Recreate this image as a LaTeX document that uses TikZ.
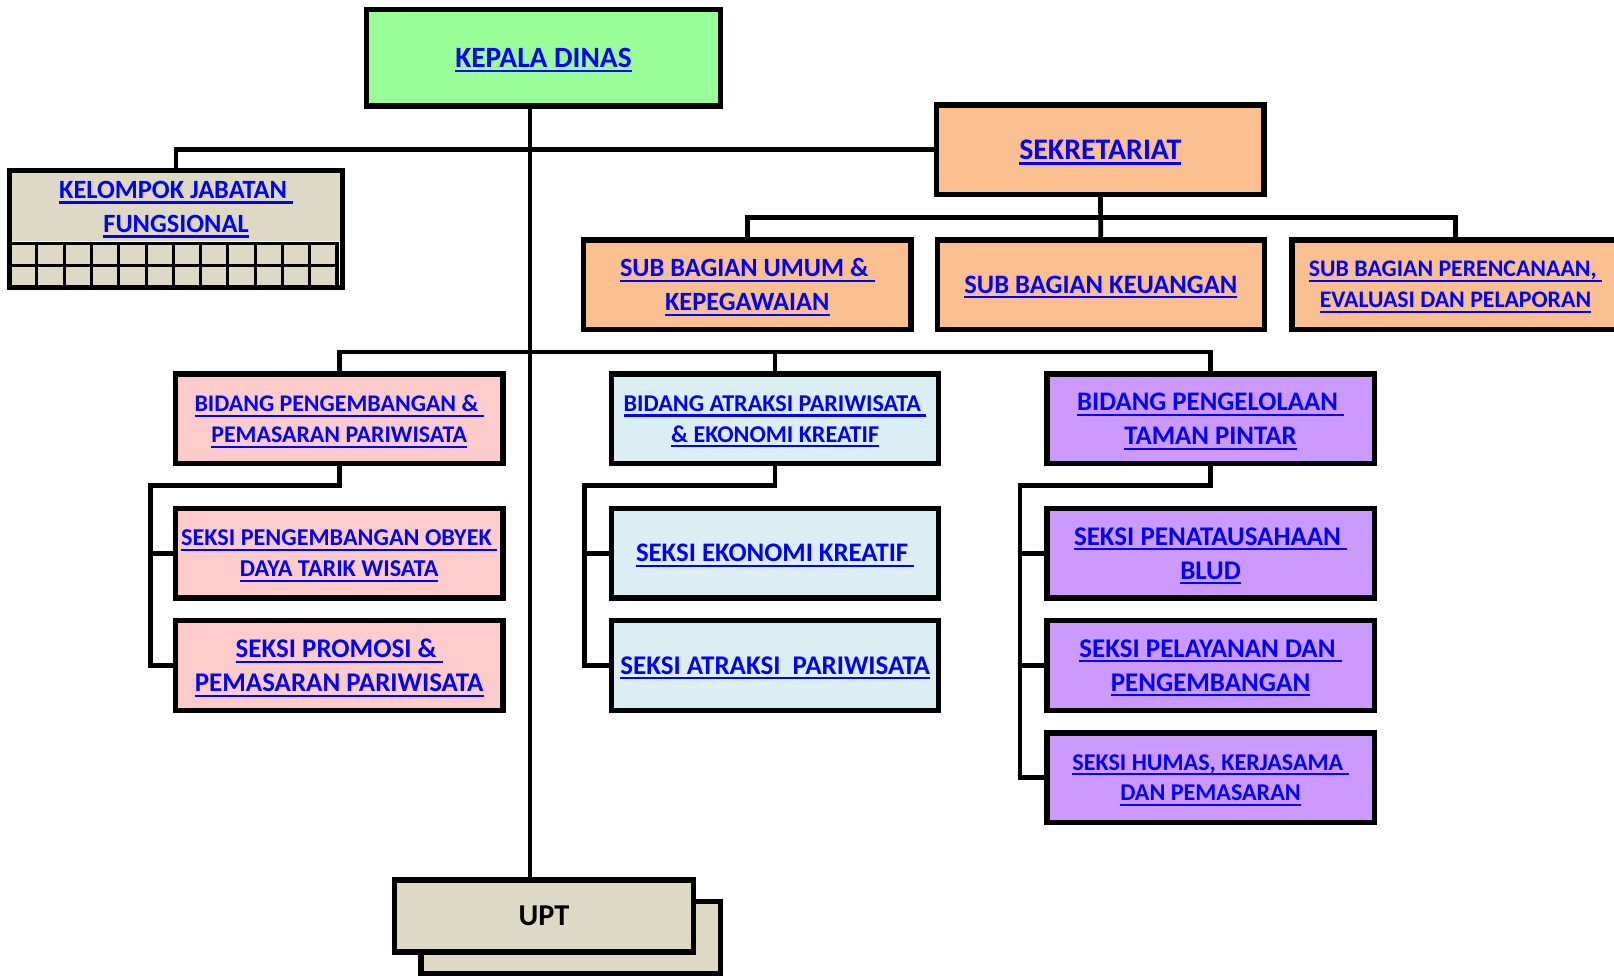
\documentclass[tikz,border=0pt]{standalone}
\usepackage{fontspec}
\setmainfont{Carlito}
\usepackage{xcolor}
\usetikzlibrary{positioning,calc,shadows}

\definecolor{hijau}{HTML}{99FF99}
\definecolor{oranye}{HTML}{FAC090}
\definecolor{merahmuda}{HTML}{FFCCCC}
\definecolor{birumuda}{HTML}{DAEEF3}
\definecolor{ungu}{HTML}{CC99FF}
\definecolor{krem}{HTML}{DDD9C4}
\definecolor{tautan}{HTML}{0000FF}

% underlined blue link text
\newcommand{\lnk}[1]{{\color{tautan}\setbox0\hbox{#1}\rlap{\raisebox{-5.1pt}[0pt][0pt]{\rule{\wd0}{2.2pt}}}\box0}}

\begin{document}
\begin{tikzpicture}[x=1pt,y=-1pt,
    bingkai/.style={draw=black, line width=5.2pt},
    kotak/.style={bingkai, align=center, inner sep=0pt, minimum width=318pt, minimum height=87pt},
    garis/.style={line width=4.6pt},
    huruf/.style 2 args={font=\bfseries\fontsize{#1}{#2}\selectfont}]
    \useasboundingbox (0,0) rectangle (1568,948);

    % Pimpinan
    \node[kotak, fill=hijau, minimum width=344pt, minimum height=94pt, huruf={28.6}{31}] (kepala) at (528,56) {\lnk{KEPALA DINAS}};
    \node[kotak, fill=oranye, huruf={29}{31}] (sekr) at (1069,145.5) {\lnk{SEKRETARIAT}};

    % Kelompok jabatan fungsional
    \node[kotak, draw=none, minimum height=66pt, fill=krem, huruf={25.6}{33}] (kjf) at (171,201) {\lnk{KELOMPOK JABATAN\ }\\\lnk{FUNGSIONAL}};
    \draw[line width=3pt, fill=krem] (kjf.south west) rectangle ++(318,43);
    \foreach \i in {1,...,11}
        \draw[line width=3pt] ($(kjf.south west)+(\i*26.5,0)$) -- ++(0,43);
    \draw[line width=3pt] ($(kjf.south west)+(0,21.5)$) -- ++(318,0);
    \draw[bingkai] (kjf.north west) rectangle ($(kjf.south east)+(0,43)$);

    % Sub bagian
    \node[kotak, fill=oranye, huruf={25.6}{33}] (sbumum) at (726,276.5) {\lnk{SUB BAGIAN UMUM \&\ }\\\lnk{KEPEGAWAIAN}};
    \node[kotak, fill=oranye, huruf={25.8}{33}] (sbkeu) at (1069.5,276.5) {\lnk{SUB BAGIAN KEUANGAN}};
    \node[kotak, fill=oranye, huruf={23.1}{30}] (sbren) at (1414,276.5) {\lnk{SUB BAGIAN PERENCANAAN,\ }\\\lnk{EVALUASI DAN PELAPORAN}};

    % Bidang
    \node[kotak, fill=merahmuda, huruf={23.2}{30}] (bpp) at (329.5,407) {\lnk{BIDANG PENGEMBANGAN \&\ }\\\lnk{PEMASARAN PARIWISATA}};
    \node[kotak, fill=birumuda, huruf={23.4}{30}] (bat) at (753,407) {\lnk{BIDANG ATRAKSI PARIWISATA\ }\\\lnk{\& EKONOMI KREATIF}};
    \node[kotak, fill=ungu, huruf={26}{33}] (bpt) at (1176,407) {\lnk{BIDANG PENGELOLAAN\ }\\\lnk{TAMAN PINTAR}};

    % Seksi
    \node[kotak, fill=merahmuda, huruf={23.5}{30}] (sdt) at (329.5,537.5) {\lnk{SEKSI PENGEMBANGAN OBYEK\ }\\\lnk{DAYA TARIK WISATA}};
    \node[kotak, fill=merahmuda, huruf={26.2}{33}] (spp) at (329.5,646.5) {\lnk{SEKSI PROMOSI \&\ }\\\lnk{PEMASARAN PARIWISATA}};
    \node[kotak, fill=birumuda, huruf={26}{33}] (sek) at (753,537.5) {\lnk{SEKSI EKONOMI KREATIF\ }};
    \node[kotak, fill=birumuda, huruf={26.2}{33}] (sap) at (753,646.5) {\lnk{SEKSI ATRAKSI\ \ PARIWISATA}};
    \node[kotak, fill=ungu, huruf={26.2}{33}] (sblud) at (1176,537.5) {\lnk{SEKSI PENATAUSAHAAN\ }\\\lnk{BLUD}};
    \node[kotak, fill=ungu, huruf={26.2}{33}] (spl) at (1176,646.5) {\lnk{SEKSI PELAYANAN DAN\ }\\\lnk{PENGEMBANGAN}};
    \node[kotak, fill=ungu, huruf={23.4}{30}] (shm) at (1176,755.5) {\lnk{SEKSI HUMAS, KERJASAMA\ }\\\lnk{DAN PEMASARAN}};

    % UPT
    \node[kotak, fill=krem, minimum width=291pt, minimum height=70pt, huruf={29.4}{31},
          copy shadow={shadow xshift=26pt, shadow yshift=-21pt}] (upt) at (528.5,890) {UPT};

    % Garis
    \coordinate (sbbus) at (1069.5,211);
    \coordinate (bbus) at (515,342);
    \coordinate (brA) at (146,472);
    \coordinate (brB) at (568,472);
    \coordinate (brC) at (991,472);

    \draw[garis] ([xshift=-13pt]kepala.south) -- ([xshift=-13.5pt]upt.north);
    \draw[garis] (kjf.north) |- (sekr.west);
    \draw[garis] (sekr) -- (sbkeu);
    \draw[garis] (sbumum.north) |- (sbbus) -| (sbren.north);
    \draw[garis] (bpp.north) |- (bbus) -| (bpt.north);
    \draw[garis] (bat.north) -- (bat.north |- bbus);
    \draw[garis] (bpp.south) |- (brA) |- (spp.west);
    \draw[garis] (brA |- sdt.west) -- (sdt.west);
    \draw[garis] (bat.south) |- (brB) |- (sap.west);
    \draw[garis] (brB |- sek.west) -- (sek.west);
    \draw[garis] (bpt.south) |- (brC) |- (shm.west);
    \draw[garis] (brC |- sblud.west) -- (sblud.west);
    \draw[garis] (brC |- spl.west) -- (spl.west);
\end{tikzpicture}
\end{document}
